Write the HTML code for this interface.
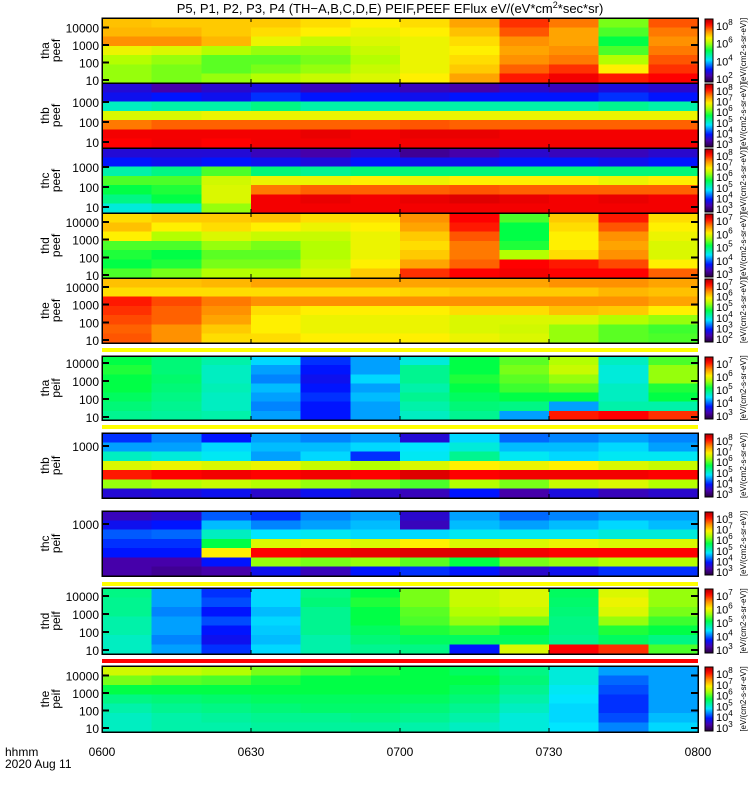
<!DOCTYPE html>
<html><head><meta charset="utf-8">
<style>
html,body{margin:0;padding:0;background:#fff;}
svg{display:block;font-family:"Liberation Sans",sans-serif;}
</style></head>
<body>
<svg id="chart" width="750" height="800" viewBox="0 0 750 800" xmlns="http://www.w3.org/2000/svg" shape-rendering="crispEdges">
<text x="390" y="13" font-size="13" text-anchor="middle">P5, P1, P2, P3, P4 (TH−A,B,C,D,E) PEIF,PEEF EFlux eV/(eV*cm<tspan font-size="9" dy="-5">2</tspan><tspan dy="5">*sec*sr)</tspan></text>
<g id="panels"></g>
<g id="xaxis"></g>
</svg>
<script>
// ---- data ----
const timeStart = 0;      // minutes after 0600
const timeEnd = 120;
const colStartMinutes = [0,10,20,30,40,50,60,70,80,90,100,110];
const xTickLabels = ["0600","0630","0700","0730","0800"];
const xTickMinutes = [0,30,60,90,120];
const panelNames = [["tha","peef"],["thb","peef"],["thc","peef"],["thd","peef"],["the","peef"],["tha","peif"],["thb","peif"],["thc","peif"],["thd","peif"],["the","peif"]];
const yTickLabels = [["10000","1000","100","10"],["1000","100","10"],["1000","100","10"],["10000","1000","100","10"],["10000","1000","100","10"],["10000","1000","100","10"],["1000"],["1000"],["10000","1000","100","10"],["10000","1000","100","10"]];
const yTickLog = [[4,3,2,1],[3,2,1],[3,2,1],[4,3,2,1],[4,3,2,1],[4,3,2,1],[3],[3],[4,3,2,1],[4,3,2,1]];
const cbarLabels = [["8","6","4","2"],["8","7","6","5","4","3"],["8","7","6","5","4","3"],["7","6","5","4","3"],["7","6","5","4","3","2"],["7","6","5","4","3"],["8","7","6","5","4","3"],["8","7","6","5","4","3"],["7","6","5","4","3"],["8","7","6","5","4","3"]];
const v1 = [[0.75,0.76,0.8,0.68,0.62,0.6,0.6],[0.74,0.76,0.8,0.66,0.6,0.58,0.58],[0.74,0.74,0.76,0.62,0.56,0.56,0.6],[0.74,0.72,0.68,0.6,0.56,0.58,0.62],[0.72,0.7,0.64,0.6,0.58,0.6,0.64],[0.7,0.68,0.66,0.64,0.62,0.64,0.66],[0.72,0.7,0.68,0.68,0.68,0.68,0.7],[0.78,0.75,0.72,0.7,0.72,0.74,0.78],[0.88,0.85,0.8,0.78,0.8,0.84,0.9],[0.82,0.78,0.78,0.8,0.82,0.88,0.93],[0.58,0.55,0.5,0.55,0.62,0.7,0.9],[0.85,0.82,0.8,0.82,0.85,0.88,0.92]];
const v2 = [[0.15,0.18,0.4,0.66,0.82,0.93,0.92],[0.1,0.2,0.42,0.66,0.84,0.93,0.93],[0.14,0.18,0.42,0.68,0.84,0.93,0.92],[0.16,0.22,0.45,0.68,0.84,0.93,0.93],[0.12,0.2,0.42,0.68,0.84,0.94,0.93],[0.15,0.2,0.42,0.68,0.84,0.93,0.93],[0.12,0.18,0.42,0.68,0.85,0.94,0.93],[0.1,0.2,0.42,0.68,0.84,0.94,0.93],[0.14,0.2,0.42,0.68,0.84,0.93,0.93],[0.12,0.2,0.42,0.68,0.84,0.93,0.93],[0.16,0.22,0.44,0.68,0.84,0.93,0.93],[0.14,0.2,0.42,0.68,0.84,0.93,0.93]];
const v3 = [[0.15,0.2,0.42,0.55,0.5,0.45,0.38],[0.15,0.18,0.45,0.55,0.52,0.5,0.4],[0.15,0.2,0.55,0.65,0.66,0.66,0.6],[0.12,0.18,0.46,0.68,0.82,0.93,0.93],[0.1,0.16,0.44,0.68,0.84,0.94,0.93],[0.14,0.2,0.46,0.7,0.84,0.93,0.93],[0.08,0.18,0.46,0.68,0.84,0.94,0.93],[0.1,0.18,0.46,0.7,0.85,0.95,0.93],[0.14,0.2,0.46,0.7,0.84,0.94,0.93],[0.12,0.2,0.46,0.7,0.84,0.93,0.93],[0.12,0.18,0.46,0.68,0.84,0.94,0.93],[0.14,0.2,0.46,0.7,0.84,0.93,0.93]];
const v4 = [[0.72,0.75,0.7,0.55,0.52,0.5,0.55],[0.74,0.7,0.62,0.55,0.5,0.52,0.58],[0.74,0.72,0.66,0.6,0.56,0.58,0.62],[0.75,0.7,0.64,0.58,0.56,0.58,0.62],[0.72,0.68,0.64,0.62,0.62,0.64,0.66],[0.72,0.7,0.68,0.68,0.68,0.7,0.74],[0.8,0.78,0.74,0.72,0.74,0.78,0.88],[0.92,0.9,0.85,0.82,0.82,0.84,0.92],[0.55,0.5,0.5,0.52,0.62,0.92,0.93],[0.74,0.72,0.7,0.7,0.72,0.9,0.92],[0.9,0.85,0.8,0.78,0.8,0.86,0.92],[0.72,0.7,0.68,0.66,0.66,0.7,0.84]];
const v5 = [[0.75,0.72,0.9,0.88,0.86,0.84,0.85],[0.75,0.72,0.86,0.84,0.84,0.8,0.8],[0.76,0.72,0.82,0.8,0.78,0.74,0.72],[0.78,0.72,0.8,0.72,0.7,0.7,0.72],[0.78,0.72,0.8,0.7,0.68,0.68,0.7],[0.78,0.72,0.8,0.7,0.68,0.68,0.7],[0.78,0.73,0.8,0.7,0.68,0.68,0.7],[0.78,0.74,0.8,0.72,0.66,0.66,0.68],[0.78,0.74,0.8,0.72,0.66,0.65,0.66],[0.8,0.74,0.8,0.75,0.66,0.6,0.6],[0.8,0.76,0.8,0.74,0.62,0.56,0.56],[0.78,0.75,0.78,0.7,0.6,0.54,0.55]];
const v6 = [[0.5,0.52,0.5,0.5,0.48,0.46,0.44],[0.46,0.46,0.47,0.46,0.45,0.44,0.43],[0.42,0.4,0.4,0.41,0.4,0.4,0.42],[0.34,0.3,0.28,0.32,0.3,0.28,0.3],[0.22,0.2,0.18,0.2,0.22,0.2,0.2],[0.3,0.3,0.34,0.3,0.32,0.3,0.3],[0.38,0.44,0.44,0.42,0.44,0.42,0.4],[0.5,0.5,0.52,0.5,0.48,0.46,0.44],[0.56,0.58,0.56,0.54,0.5,0.45,0.3],[0.62,0.64,0.6,0.56,0.5,0.3,0.9],[0.4,0.38,0.38,0.4,0.4,0.42,0.92],[0.55,0.6,0.6,0.52,0.5,0.42,0.88]];
const v7 = [[0.22,0.3,0.4,0.66,0.9,0.6,0.15],[0.28,0.3,0.38,0.68,0.92,0.62,0.16],[0.2,0.34,0.36,0.66,0.93,0.64,0.18],[0.3,0.32,0.3,0.68,0.92,0.62,0.14],[0.28,0.32,0.34,0.64,0.93,0.6,0.18],[0.3,0.34,0.22,0.62,0.92,0.58,0.14],[0.15,0.35,0.36,0.66,0.95,0.55,0.12],[0.34,0.38,0.44,0.7,0.92,0.62,0.2],[0.26,0.32,0.36,0.68,0.93,0.58,0.1],[0.28,0.32,0.34,0.7,0.93,0.64,0.16],[0.3,0.34,0.36,0.66,0.93,0.66,0.12],[0.28,0.3,0.36,0.64,0.92,0.62,0.14]];
const v8 = [[0.12,0.18,0.25,0.22,0.2,0.1,0.1],[0.14,0.2,0.26,0.22,0.2,0.1,0.08],[0.25,0.32,0.4,0.5,0.7,0.2,0.1],[0.22,0.28,0.35,0.66,0.92,0.6,0.18],[0.28,0.3,0.36,0.68,0.93,0.58,0.12],[0.3,0.32,0.34,0.66,0.94,0.6,0.2],[0.14,0.12,0.34,0.7,0.95,0.56,0.22],[0.3,0.32,0.36,0.66,0.95,0.5,0.2],[0.26,0.3,0.36,0.66,0.93,0.58,0.14],[0.28,0.32,0.36,0.68,0.92,0.6,0.18],[0.3,0.34,0.38,0.66,0.92,0.62,0.22],[0.3,0.32,0.38,0.66,0.92,0.62,0.22]];
const v9 = [[0.45,0.44,0.44,0.42,0.42,0.4,0.4],[0.3,0.3,0.28,0.3,0.3,0.28,0.3],[0.22,0.24,0.2,0.24,0.2,0.18,0.22],[0.34,0.34,0.32,0.34,0.33,0.32,0.34],[0.45,0.46,0.44,0.44,0.44,0.42,0.42],[0.5,0.52,0.5,0.5,0.48,0.46,0.44],[0.58,0.58,0.56,0.55,0.52,0.48,0.45],[0.64,0.64,0.62,0.6,0.54,0.48,0.2],[0.66,0.66,0.64,0.58,0.5,0.48,0.66],[0.48,0.47,0.46,0.45,0.45,0.44,0.92],[0.66,0.68,0.66,0.6,0.52,0.48,0.88],[0.6,0.6,0.58,0.54,0.5,0.45,0.55]];
const v10 = [[0.65,0.58,0.5,0.45,0.42,0.4,0.4],[0.64,0.56,0.5,0.46,0.44,0.42,0.42],[0.62,0.55,0.5,0.47,0.45,0.43,0.42],[0.58,0.52,0.5,0.48,0.46,0.44,0.43],[0.55,0.5,0.5,0.48,0.47,0.44,0.43],[0.52,0.5,0.5,0.48,0.47,0.45,0.43],[0.5,0.5,0.5,0.48,0.46,0.44,0.42],[0.48,0.5,0.48,0.46,0.44,0.42,0.4],[0.45,0.46,0.44,0.42,0.4,0.38,0.38],[0.38,0.38,0.36,0.35,0.34,0.34,0.35],[0.3,0.26,0.24,0.22,0.22,0.24,0.28],[0.3,0.3,0.3,0.3,0.3,0.32,0.34]];
const panelValues = [v1,v2,v3,v4,v5,v6,v7,v8,v9,v10];
// ---- layout ----
const X0 = 102, X1 = 698;
const panelTop = [18,83,148,213,278,356,433,511,588,666];
const panelBot = [83,148,213,278,343,420,498,576,654,732];
const decadeY1 = [80,142,207,275,340,417,482,560,650,728];
const decadePx = [17.5,20,20,17.7,17.7,18,18,18,18,17.5];
const strips = [[348,352,"#ffff00"],[425,429,"#ffff00"],[582,586,"#ffff00"],[659,663,"#ff0000"]];

const NS = "http://www.w3.org/2000/svg";
function xScale(m){ return X0 + (m - timeStart) / (timeEnd - timeStart) * (X1 - X0); }
function yLog(p, l){ return decadeY1[p] - (l - 1) * decadePx[p]; }
const stops = [[0,[40,0,60]],[0.1,[70,0,170]],[0.2,[0,20,255]],[0.35,[0,230,255]],[0.5,[0,255,70]],[0.62,[180,255,0]],[0.7,[255,240,0]],[0.8,[255,145,0]],[0.92,[255,0,0]],[1,[170,0,0]]];
function jet(v){
  v = Math.max(0, Math.min(1, v));
  for (let i = 1; i < stops.length; i++) {
    if (v <= stops[i][0]) {
      const a = stops[i-1], b = stops[i], t = (v - a[0]) / (b[0] - a[0]);
      const c = a[1].map((q, k) => Math.round(q + (b[1][k] - q) * t));
      return "rgb(" + c.join(",") + ")";
    }
  }
  return "rgb(170,0,0)";
}
function mk(tag, attrs, parent){
  const e = document.createElementNS(NS, tag);
  for (const k in attrs) e.setAttribute(k, attrs[k]);
  parent.appendChild(e);
  return e;
}
const panels = document.getElementById("panels");
const defs = mk("defs", {}, panels);
const grad = mk("linearGradient", {id:"jetgrad", x1:"0", y1:"1", x2:"0", y2:"0"}, defs);
for (let i = 0; i <= 20; i++) mk("stop", {offset: (i/20), "stop-color": jet(i/20)}, grad);

strips.forEach(function(s){
  const r = mk("rect", {x:X0, y:s[0], width:X1-X0, height:s[1]-s[0], fill:s[2]}, panels);
  
  
});

panelValues.forEach(function(vals, p){
  const g = mk("g", {}, panels);
  
  
  const top = panelTop[p], bot = panelBot[p];
  const nRows = vals[0].length, rh = (bot - top) / nRows;
  vals.forEach(function(col, c){
    const xa = xScale(colStartMinutes[c]);
    const xb = c + 1 < colStartMinutes.length ? xScale(colStartMinutes[c+1]) : xScale(timeEnd);
    col.forEach(function(v, r){
      const cell = mk("rect", {x:xa.toFixed(1), y:(top + r*rh).toFixed(1), width:(xb-xa+0.6).toFixed(1), height:(rh+0.6).toFixed(1), fill:jet(v)}, g);
      
      
    });
  });
  const frame = mk("rect", {x:X0, y:top, width:X1-X0, height:bot-top, fill:"none", stroke:"#000", "stroke-width":"1.5"}, g);
  
  
  xTickMinutes.forEach(function(m){
    const x = xScale(m);
    mk("line", {x1:x, y1:top, x2:x, y2:top+4, stroke:"#000"}, g);
    mk("line", {x1:x, y1:bot, x2:x, y2:bot-4, stroke:"#000"}, g);
  });
  yTickLabels[p].forEach(function(lab, i){
    const y = yLog(p, yTickLog[p][i]);
    mk("line", {x1:X0, y1:y, x2:X0+7, y2:y, stroke:"#000", "stroke-width":"2"}, g);
    mk("line", {x1:X1, y1:y, x2:X1-7, y2:y, stroke:"#000", "stroke-width":"2"}, g);
    const t = mk("text", {x:X0-3, y:y+5, "font-size":"12", "text-anchor":"end"}, g);
    t.textContent = lab;
    
    
  });
  const cy = (top + bot) / 2;
  const lab = mk("text", {x:0, y:0, "font-size":"12", "text-anchor":"middle", transform:"translate(49," + cy + ") rotate(-90)"}, g);
  
  
  mk("tspan", {x:0, dy:0}, lab).textContent = panelNames[p][0];
  mk("tspan", {x:0, dy:11}, lab).textContent = panelNames[p][1];
  const cb = mk("rect", {x:705, y:top+1, width:8, height:bot-top-2, fill:"url(#jetgrad)", stroke:"#000", "stroke-width":"1"}, g);
  
  
  const cl = cbarLabels[p];
  cl.forEach(function(e, i){
    const y = top + 8 + i * (bot - top - 12) / (cl.length - 1 || 1);
    const t = mk("text", {x:716, y:y+4, "font-size":"11"}, g);
    
    
    t.textContent = "10";
    mk("tspan", {dy:-5, "font-size":"8"}, t).textContent = e;
  });
  const u = mk("text", {x:0, y:0, "font-size":"8", "text-anchor":"middle", transform:"translate(746," + cy + ") rotate(-90)"}, g);
  
  
  u.textContent = "[eV/(cm2-s-sr-eV)]";
});

const xa = document.getElementById("xaxis");
xTickLabels.forEach(function(lab, i){
  const t = mk("text", {x:xScale(xTickMinutes[i]), y:756, "font-size":"12", "text-anchor":"middle"}, xa);
  
  
  t.textContent = lab;
});
const h1 = mk("text", {x:5, y:756, "font-size":"12"}, xa);


h1.textContent = "hhmm";
const h2 = mk("text", {x:5, y:768, "font-size":"12"}, xa);


h2.textContent = "2020 Aug 11";
</script>
</body></html>
